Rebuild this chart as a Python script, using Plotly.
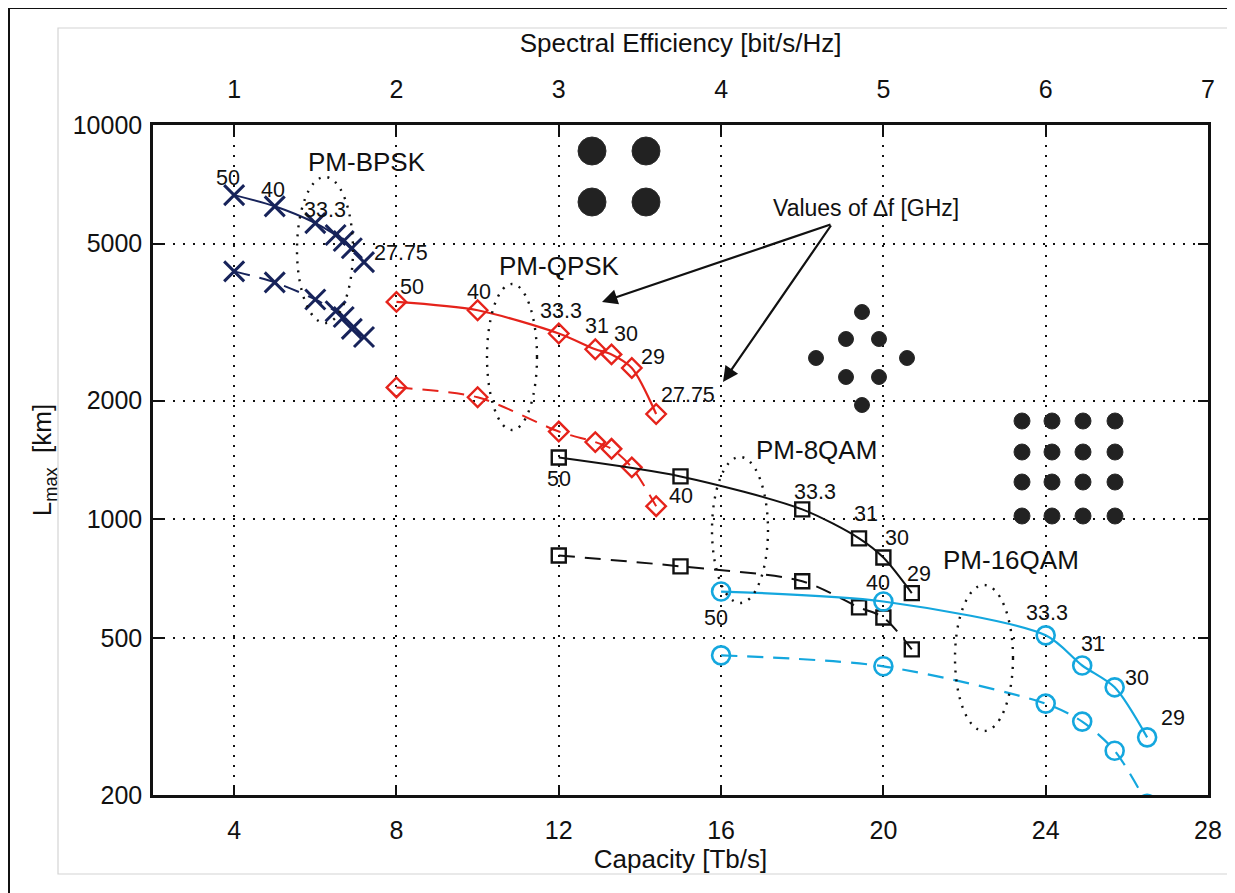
import math
import plotly.graph_objects as go

# ---------------- data ----------------
df_bpsk = ["50", "40", "33.3", "31", "30", "29", "27.75"]
cap_bpsk = [4.0, 5.0, 6.0, 6.5, 6.7, 6.9, 7.2]
L_bpsk_solid = [6640, 6220, 5640, 5260, 5080, 4870, 4490]
L_bpsk_dash = [4255, 3990, 3610, 3370, 3260, 3040, 2900]

df_qpsk = ["50", "40", "33.3", "31", "30", "29", "27.75"]
cap_qpsk = [8.0, 10.0, 12.0, 12.9, 13.3, 13.8, 14.4]
L_qpsk_solid = [3560, 3390, 2960, 2700, 2620, 2420, 1850]
L_qpsk_dash = [2160, 2040, 1670, 1570, 1510, 1355, 1080]

df_8qam = ["50", "40", "33.3", "31", "30", "29"]
cap_8qam = [12.0, 15.0, 18.0, 19.4, 20.0, 20.7]
L_8qam_solid = [1435, 1285, 1060, 895, 800, 650]
L_8qam_dash = [810, 760, 697, 598, 564, 468]

df_16qam = ["50", "40", "33.3", "31", "30", "29"]
cap_16qam = [16.0, 20.0, 24.0, 24.9, 25.7, 26.5]
L_16qam_solid = [656, 619, 508, 426, 375, 280]
L_16qam_dash = [452, 424, 341, 307, 259, 190]

cap_ticks = [4, 8, 12, 16, 20, 24, 28]
se_ticks = [1, 2, 3, 4, 5, 6, 7]
L_ticks = [200, 500, 1000, 2000, 5000, 10000]

# which points carry a label, and label offsets (px)
bpsk_lab = {0: (-6, 17), 1: (-2, 16), 2: (10, 13), 6: (37, 9)}
qpsk_lab = {0: (16, 15), 1: (1, 18), 2: (2, 23), 3: (2, 23), 4: (14, 20), 5: (21, 11), 6: (32, 19)}
qam8_lab = {0: (0, -21), 1: (0, -20), 2: (13, 17), 3: (7, 24), 4: (14, 20), 5: (7, 19)}
qam16_lab = {0: (-5, -26), 1: (-5, 19), 2: (1, 22), 3: (11, 22), 4: (22, 9), 5: (26, 19)}

NAVY = "#17235a"
RED = "#e5231b"
CYAN = "#14a7de"
BLACK = "#111111"
FONT = "Liberation Sans, Arial, sans-serif"

# page body margin of the browser (px)
PAGE = 8
WIN_W, WIN_H = 1235, 893
# plot-area geometry in window pixels (for decorations)
L_PX, R_PX, T_PX, B_PX = 153, 1208, 125, 795
W_PX, H_PX = R_PX - L_PX, B_PX - T_PX
FIG_W, FIG_H = WIN_W - PAGE, WIN_H - PAGE


def fx(px):
    return (px - L_PX) / W_PX


def fy(py):
    return (B_PX - py) / H_PX


fig = go.Figure()


def add_series(cap, L, color, symbol, size, lw, mlw, dash):
    fig.add_trace(go.Scatter(
        x=cap, y=L, mode="lines+markers",
        line=dict(color=color, width=lw, dash=dash, shape="spline", smoothing=0.8),
        marker=dict(symbol=symbol, size=size, color=color,
                    line=dict(color=color, width=mlw)),
        cliponaxis=True, showlegend=False, hoverinfo="skip"))


add_series(cap_bpsk, L_bpsk_solid, NAVY, "x-thin-open", 20, 2, 3, "solid")
add_series(cap_bpsk, L_bpsk_dash, NAVY, "x-thin-open", 20, 2, 3, "16px,10px")
add_series(cap_qpsk, L_qpsk_solid, RED, "diamond-open", 15, 2.2, 2.4, "solid")
add_series(cap_qpsk, L_qpsk_dash, RED, "diamond-open", 15, 2, 2.4, "16px,10px")
add_series(cap_8qam, L_8qam_solid, BLACK, "square-open", 14, 2, 2.4, "solid")
add_series(cap_8qam, L_8qam_dash, BLACK, "square-open", 14, 2, 2.4, "16px,10px")
add_series(cap_16qam, L_16qam_solid, CYAN, "circle-open", 18, 2.2, 2.6, "solid")
add_series(cap_16qam, L_16qam_dash, CYAN, "circle-open", 18, 2.2, 2.6, "16px,10px")

# invisible trace to activate the top axis
fig.add_trace(go.Scatter(x=[se_ticks[0], se_ticks[-1]], y=[1000, 1000], xaxis="x2",
                         mode="markers", marker=dict(opacity=0), showlegend=False,
                         hoverinfo="skip"))

annotations = []


def add_labels(cap, L, texts, labs):
    for i, (dx, dy) in labs.items():
        annotations.append(dict(
            x=cap[i], y=math.log10(L[i]), xref="x", yref="y", text=texts[i],
            showarrow=False, xshift=dx, yshift=dy, xanchor="center", yanchor="middle",
            font=dict(size=21.5, color=BLACK, family=FONT)))


add_labels(cap_bpsk, L_bpsk_solid, df_bpsk, bpsk_lab)
add_labels(cap_qpsk, L_qpsk_solid, df_qpsk, qpsk_lab)
add_labels(cap_8qam, L_8qam_solid, df_8qam, qam8_lab)
add_labels(cap_16qam, L_16qam_solid, df_16qam, qam16_lab)

# group labels
for txt, px, py in [("PM-BPSK", 367, 162), ("PM-QPSK", 559, 266),
                    ("PM-8QAM", 816, 450), ("PM-16QAM", 1011, 560)]:
    annotations.append(dict(x=fx(px), y=fy(py), xref="paper", yref="paper", text=txt,
                            showarrow=False, xanchor="center", yanchor="middle",
                            font=dict(size=26, color=BLACK, family=FONT)))

# Values of delta f
annotations.append(dict(x=fx(866), y=fy(208), xref="paper", yref="paper",
                        text="Values of \u2206f [GHz]", showarrow=False,
                        xanchor="center", yanchor="middle",
                        font=dict(size=23, color=BLACK, family=FONT)))
for hx, hy in [(602, 302), (723, 382)]:
    annotations.append(dict(x=fx(hx), y=fy(hy), xref="paper", yref="paper", text="",
                            showarrow=True, ax=832 - hx, ay=224 - hy, axref="pixel",
                            ayref="pixel", arrowhead=2, arrowsize=1.4, arrowwidth=2.2,
                            arrowcolor=BLACK, standoff=0, startstandoff=0))

shapes = []
# dotted ellipses
for cx, cy, rx, ry in [(325, 250, 28, 73), (512, 357, 25, 73),
                       (740, 530, 28, 73), (984, 658, 29, 73)]:
    shapes.append(dict(type="circle", xref="paper", yref="paper",
                       x0=fx(cx - rx), x1=fx(cx + rx), y0=fy(cy + ry), y1=fy(cy - ry),
                       line=dict(color=BLACK, width=2.4, dash="2px,7px"),
                       fillcolor="rgba(0,0,0,0)"))


# constellation decorations
def dot(cx, cy, r):
    shapes.append(dict(type="circle", xref="paper", yref="paper",
                       x0=fx(cx - r), x1=fx(cx + r), y0=fy(cy + r), y1=fy(cy - r),
                       line=dict(color="#2a2a2a", width=1), fillcolor="#222222"))


for cx in (592, 646):
    for cy in (151, 202):
        dot(cx, cy, 14)
for cx, cy in [(862, 312), (846, 339), (879, 339), (816, 358), (907, 358),
               (846, 377), (879, 377), (862, 405)]:
    dot(cx, cy, 7.5)
for cx in (1022, 1052, 1083, 1115):
    for cy in (421, 452, 482, 516):
        dot(cx, cy, 8)

# outer framing lines
shapes.append(dict(type="rect", xref="paper", yref="paper", x0=fx(58), x1=fx(1231),
                   y0=fy(874), y1=fy(28), line=dict(color="#d4d4d4", width=1.2),
                   layer="below"))
shapes.append(dict(type="line", xref="paper", yref="paper", x0=fx(9), x1=fx(1240),
                   y0=fy(8), y1=fy(8), line=dict(color=BLACK, width=2)))
shapes.append(dict(type="line", xref="paper", yref="paper", x0=fx(9), x1=fx(9),
                   y0=fy(8), y1=fy(900), line=dict(color=BLACK, width=2)))

axis_common = dict(
    ticks="inside", ticklen=10, tickwidth=2, tickcolor=BLACK,
    showline=True, linewidth=2.5, linecolor=BLACK, mirror="ticks",
    showgrid=True, gridcolor=BLACK, gridwidth=2, griddash="2px,8px",
    zeroline=False, tickfont=dict(size=25, color=BLACK, family=FONT),
)

fig.update_layout(
    width=FIG_W, height=FIG_H,
    margin=dict(l=L_PX - PAGE, r=WIN_W - R_PX, t=T_PX - PAGE, b=WIN_H - B_PX,
                autoexpand=False),
    paper_bgcolor="white", plot_bgcolor="white", showlegend=False,
    font=dict(family=FONT, color=BLACK),
    xaxis=dict(range=[2, 28], tickvals=cap_ticks, ticklabelstandoff=11,
               title=dict(text="Capacity [Tb/s]", font=dict(size=26, family=FONT), standoff=6),
               **axis_common),
    xaxis2=dict(overlaying="x", side="top", range=[0.5, 7], tickvals=se_ticks,
                ticks="", showgrid=False, showline=False, zeroline=False,
                ticklabelstandoff=21,
                tickfont=dict(size=25, color=BLACK, family=FONT),
                title=dict(text="Spectral Efficiency [bit/s/Hz]",
                           font=dict(size=26, family=FONT), standoff=14)),
    yaxis=dict(type="log", range=[math.log10(200), 4], tickvals=L_ticks,
               ticktext=[str(v) for v in L_ticks], ticklabelstandoff=3,
               title=dict(text="L<sub>max</sub>  [km]", font=dict(size=26, family=FONT),
                          standoff=14),
               **axis_common),
    annotations=annotations, shapes=shapes,
)

fig.write_html("out.html")
